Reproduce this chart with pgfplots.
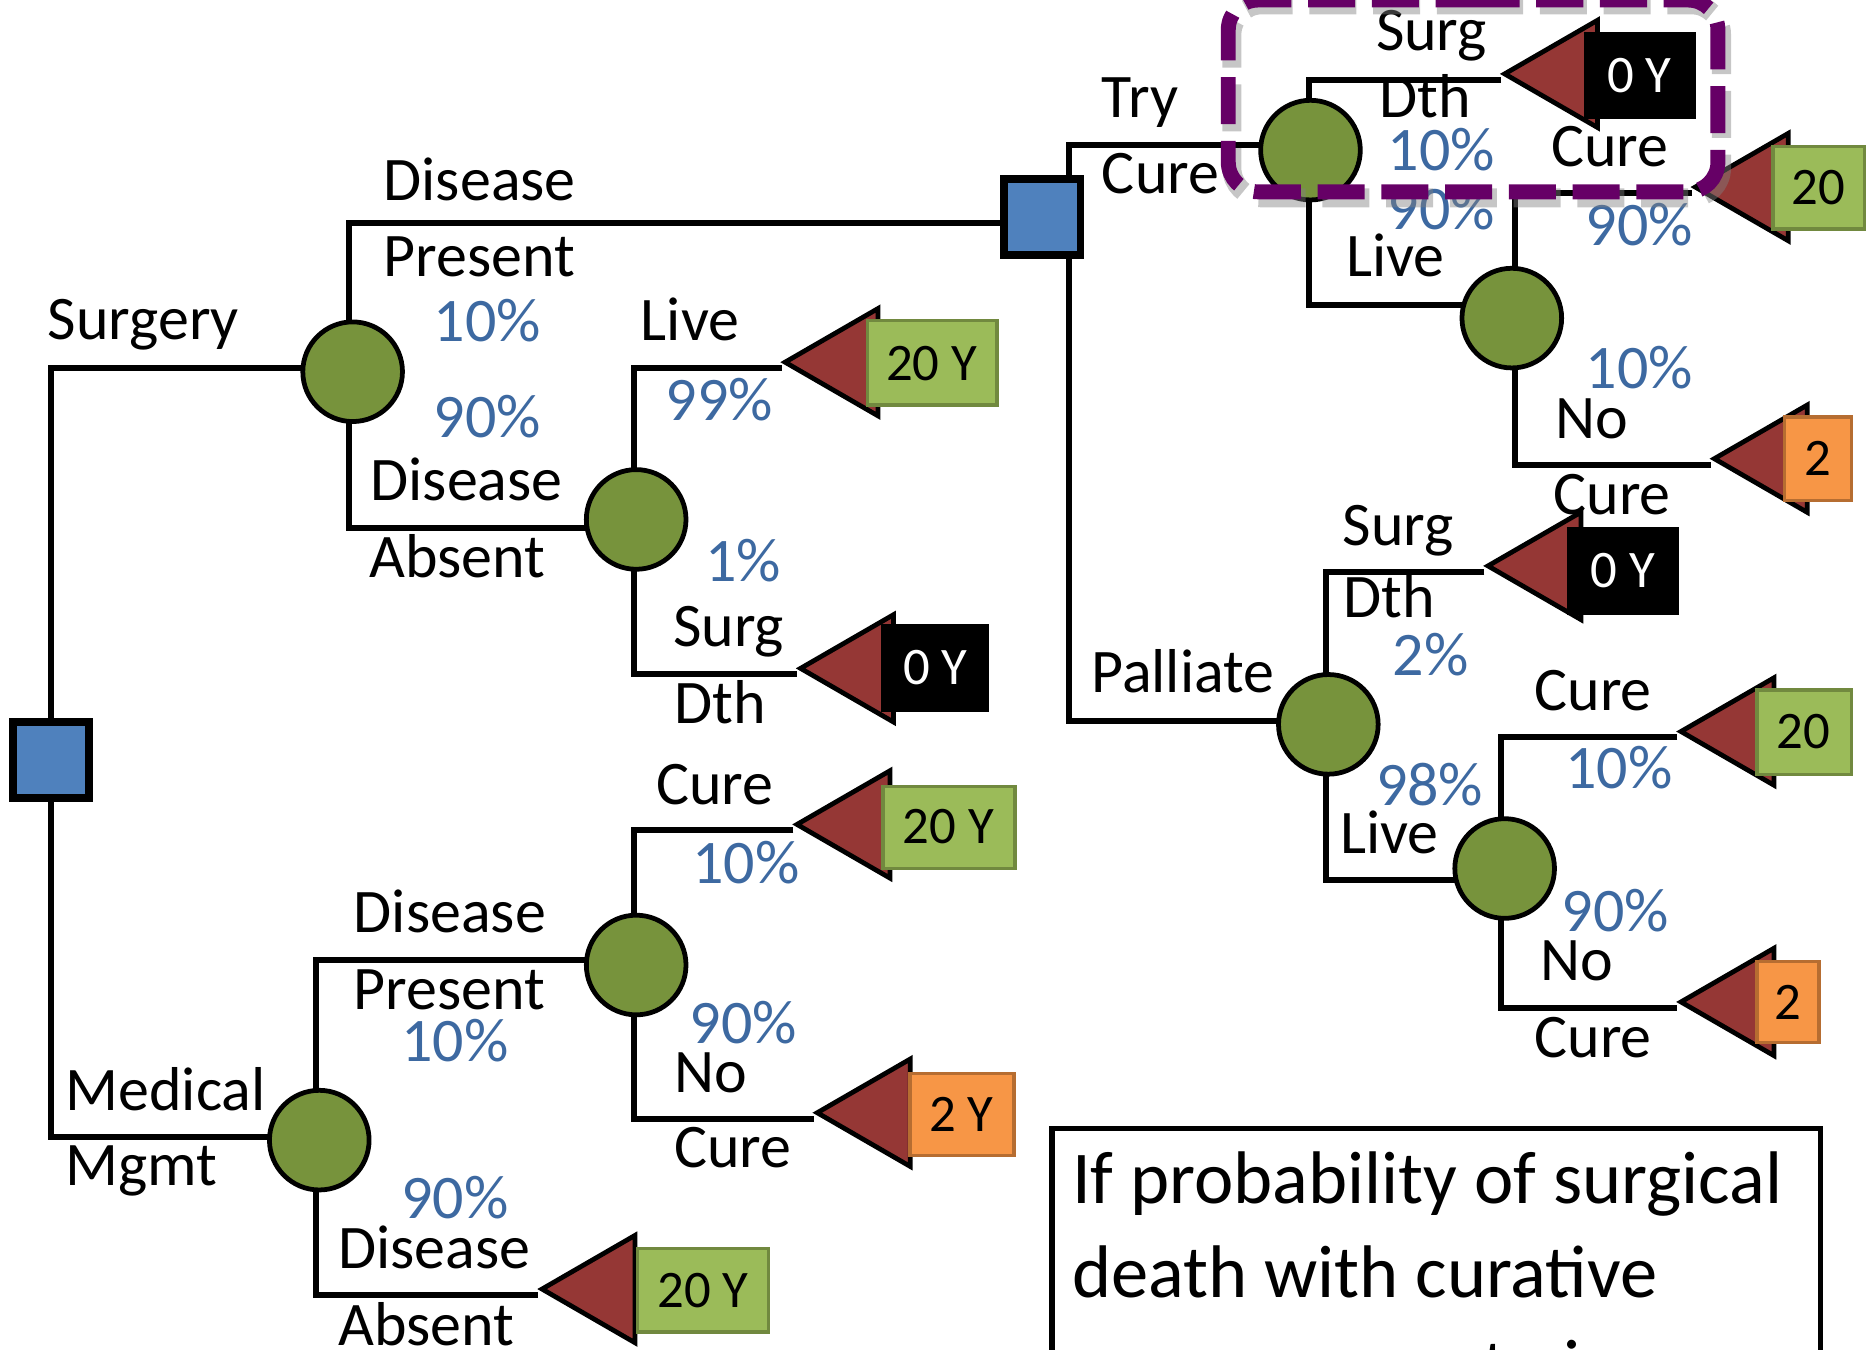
\documentclass[border=0pt]{standalone}
\usepackage{pgfplots}
\pgfplotsset{compat=1.18}
\usepackage{fontspec}
\setmainfont{Carlito}
\definecolor{sqblue}{HTML}{4F81BD}
\definecolor{cgreen}{HTML}{77933C}
\definecolor{tred}{HTML}{953735}
\definecolor{bgreen}{HTML}{9BBB59}
\definecolor{bgreenE}{HTML}{71893F}
\definecolor{borange}{HTML}{F79646}
\definecolor{borangeE}{HTML}{B66D31}
\definecolor{pctblue}{HTML}{3D69A1}
\definecolor{dpurple}{HTML}{660066}
\begin{document}
\begin{tikzpicture}[
  lbl/.style={anchor=base west, inner sep=0pt, outer sep=0pt, font=\fontsize{14.8}{17}\selectfont},
  pct/.style={lbl, text=pctblue},
  bxt/.style={anchor=center, inner sep=0pt, outer sep=0pt, font=\fontsize{12.6}{14}\selectfont},
  big/.style={anchor=base west, inner sep=0pt, outer sep=0pt, font=\fontsize{17.8}{21}\selectfont},
]
\useasboundingbox (0,0) rectangle (15.68cm,11.33cm);
\clip (0,0) rectangle (15.68cm,11.33cm);
\begin{axis}[scale only axis, width=15.68cm, height=11.33cm,
  xmin=0, xmax=1568, ymin=0, ymax=1133, y dir=reverse,
  hide axis, clip=false, clip marker paths=true, at={(0,0)}, anchor=south west]

% ---------- tree branches ----------
\addplot[black, line width=0.5mm, line join=miter, mark=none] coordinates {(296,309) (43,309) (43,954) (268,954)};
\addplot[black, line width=0.5mm, line join=miter, mark=none] coordinates {(875,187) (293,187) (293,443) (534,443)};
\addplot[black, line width=0.5mm, line join=miter, mark=none] coordinates {(656,309) (532,309) (532,566) (669,566)};
\addplot[black, line width=0.5mm, line join=miter, mark=none] coordinates {(1100,122) (897,122) (897,605) (1115,605)};
\addplot[black, line width=0.5mm, line join=miter, mark=none] coordinates {(1260,67) (1099,67) (1099,256) (1269,256)};
\addplot[black, line width=0.5mm, line join=miter, mark=none] coordinates {(1420,162) (1272,162) (1272,390) (1436,390)};
\addplot[black, line width=0.5mm, line join=miter, mark=none] coordinates {(1246,480) (1113,480) (1113,739) (1263,739)};
\addplot[black, line width=0.5mm, line join=miter, mark=none] coordinates {(1408,619) (1260,619) (1260,846) (1408,846)};
\addplot[black, line width=0.5mm, line join=miter, mark=none] coordinates {(534,806) (265,806) (265,1087) (452,1087)};
\addplot[black, line width=0.5mm, line join=miter, mark=none] coordinates {(666,697) (532,697) (532,939) (683,939)};

% ---------- decision nodes ----------
\addplot[only marks, mark=square*, mark size=9.1pt, mark options={fill=sqblue, draw=black, line width=0.65mm}] coordinates {(43,638) (875,182)};

% ---------- chance nodes ----------
\addplot[only marks, mark=*, mark size=11.9pt, mark options={fill=cgreen, draw=black, line width=0.4mm}] coordinates {(296,312) (534,436) (1100,126) (1269,267) (1115,608) (1263,729) (268,957) (534,810)};

% ---------- terminal triangles ----------
\addplot[only marks, mark=triangle*, mark size=14.8pt, mark options={rotate=90, fill=tred, draw=black, line width=0.4mm}] coordinates {(711,304) (724,561) (1315,62) (1475,157) (1491,385) (1301,475) (1463,614) (1463,841) (721,692) (738,934) (507,1082)};

% ---------- outcome boxes ----------
\addplot[fill=bgreen, draw=bgreenE, line width=0.3mm] coordinates {(728,269) (837,269) (837,340) (728,340)} -- cycle;
\addplot[fill=black, draw=black, line width=0.1mm] coordinates {(740,524) (830,524) (830,597) (740,597)} -- cycle;
\addplot[fill=black, draw=black, line width=0.1mm] coordinates {(1330,27) (1423,27) (1423,99) (1330,99)} -- cycle;
\addplot[fill=bgreen, draw=bgreenE, line width=0.3mm] coordinates {(1488,123) (1565,123) (1565,192) (1488,192)} -- cycle;
\addplot[fill=borange, draw=borangeE, line width=0.3mm] coordinates {(1498,350) (1554,350) (1554,420) (1498,420)} -- cycle;
\addplot[fill=black, draw=black, line width=0.1mm] coordinates {(1316,443) (1409,443) (1409,516) (1316,516)} -- cycle;
\addplot[fill=bgreen, draw=bgreenE, line width=0.3mm] coordinates {(1475,579) (1554,579) (1554,650) (1475,650)} -- cycle;
\addplot[fill=borange, draw=borangeE, line width=0.3mm] coordinates {(1475,807) (1527,807) (1527,875) (1475,875)} -- cycle;
\addplot[fill=bgreen, draw=bgreenE, line width=0.3mm] coordinates {(741,660) (852,660) (852,729) (741,729)} -- cycle;
\addplot[fill=borange, draw=borangeE, line width=0.3mm] coordinates {(764,901) (851,901) (851,970) (764,970)} -- cycle;
\addplot[fill=bgreen, draw=bgreenE, line width=0.3mm] coordinates {(535,1048) (645,1048) (645,1118) (535,1118)} -- cycle;

\node[bxt] at (axis cs:782,305) {20 Y};
\node[bxt, text=white] at (axis cs:785,560) {0 Y};
\node[bxt, text=white] at (axis cs:1376,63) {0 Y};
\node[bxt] at (axis cs:1526,157) {20};
\node[bxt] at (axis cs:1526,385) {2};
\node[bxt, text=white] at (axis cs:1362,479) {0 Y};
\node[bxt] at (axis cs:1514,614) {20};
\node[bxt] at (axis cs:1501,841) {2};
\node[bxt] at (axis cs:796,694) {20 Y};
\node[bxt] at (axis cs:807,935) {2 Y};
\node[bxt] at (axis cs:590,1083) {20 Y};

% ---------- branch labels ----------
\node[lbl] at (axis cs:40,285) {Surgery};
\node[lbl] at (axis cs:322,168) {Disease};
\node[lbl] at (axis cs:322,232) {Present};
\node[lbl] at (axis cs:311,420) {Disease};
\node[lbl] at (axis cs:310,485) {Absent};
\node[lbl] at (axis cs:538,286) {Live};
\node[lbl] at (axis cs:565,543) {Surg};
\node[lbl] at (axis cs:566,607) {Dth};
\node[lbl] at (axis cs:925,99) {Try};
\node[lbl] at (axis cs:925,162) {Cure};
\node[lbl] at (axis cs:1155,42) {Surg};
\node[lbl] at (axis cs:1158,99) {Dth};
\node[lbl] at (axis cs:1302,140) {Cure};
\node[lbl] at (axis cs:1130,232) {Live};
\node[lbl] at (axis cs:1306,368) {No};
\node[lbl] at (axis cs:1304,432) {Cure};
\node[lbl] at (axis cs:916,581) {Palliate};
\node[lbl] at (axis cs:1127,458) {Surg};
\node[lbl] at (axis cs:1128,518) {Dth};
\node[lbl] at (axis cs:1288,596) {Cure};
\node[lbl] at (axis cs:1125,716) {Live};
\node[lbl] at (axis cs:1293,823) {No};
\node[lbl] at (axis cs:1288,888) {Cure};
\node[lbl] at (axis cs:55,932) {Medical};
\node[lbl] at (axis cs:55,995) {Mgmt};
\node[lbl] at (axis cs:297,783) {Disease};
\node[lbl] at (axis cs:297,847) {Present};
\node[lbl] at (axis cs:284,1065) {Disease};
\node[lbl] at (axis cs:284,1129) {Absent};
\node[lbl] at (axis cs:551,675) {Cure};
\node[lbl] at (axis cs:566,917) {No};
\node[lbl] at (axis cs:566,980) {Cure};

% ---------- probabilities ----------
\node[pct] at (axis cs:364,287) {10\%};
\node[pct] at (axis cs:364,367) {90\%};
\node[pct] at (axis cs:559,353) {99\%};
\node[pct] at (axis cs:592,488) {1\%};
\node[pct] at (axis cs:1165,143) {10\%};
\node[pct] at (axis cs:1165,193) {90\%};
\node[pct] at (axis cs:1331,206) {90\%};
\node[pct] at (axis cs:1331,326) {10\%};
\node[pct] at (axis cs:1169,567) {2\%};
\node[pct] at (axis cs:1155,676) {98\%};
\node[pct] at (axis cs:1314,662) {10\%};
\node[pct] at (axis cs:1311,782) {90\%};
\node[pct] at (axis cs:337,891) {10\%};
\node[pct] at (axis cs:337,1023) {90\%};
\node[pct] at (axis cs:581,742) {10\%};
\node[pct] at (axis cs:579,876) {90\%};

% ---------- note box ----------
\addplot[fill=white, draw=black, line width=0.45mm] coordinates {(883,947) (1528,947) (1528,1260) (883,1260)} -- cycle;
\node[big] at (axis cs:900,1010) {If probability of surgical};
\node[big] at (axis cs:900,1089) {death with curative};
\node[big] at (axis cs:900,1168) {surgery were to increase};

% ---------- highlight ----------
\addplot[draw=gray, opacity=0.45, line width=1.6mm, dash pattern=on 3.95mm off 1.4mm, rounded corners=2.5mm, mark=none] coordinates {(1239,4) (1445,4) (1445,166) (1034,166) (1034,4) (1239,4)};
\addplot[draw=dpurple, line width=1.25mm, dash pattern=on 3.95mm off 1.4mm, rounded corners=2.5mm, mark=none] coordinates {(1236,0) (1442,0) (1442,161) (1031,161) (1031,0) (1236,0)};

\end{axis}
\end{tikzpicture}
\end{document}
